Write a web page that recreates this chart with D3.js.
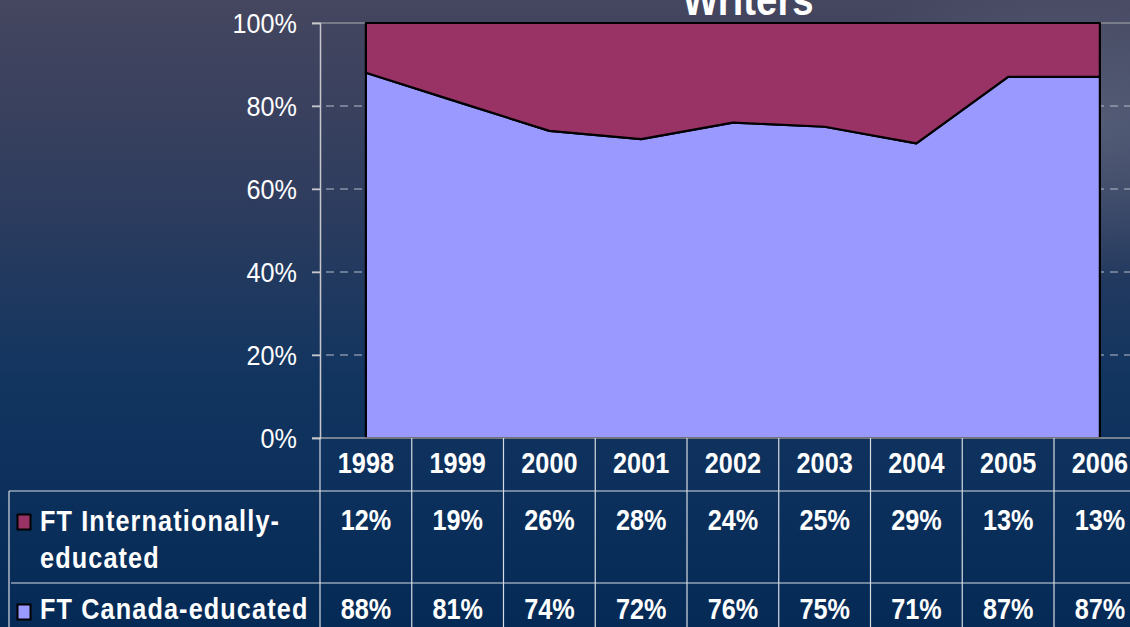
<!DOCTYPE html>
<html><head><meta charset="utf-8">
<script src="https://cdn.jsdelivr.net/npm/d3@7"></script>
<style>html,body{margin:0;padding:0;overflow:hidden;background:#0a2b55}</style>
</head><body>
<svg id="chart" width="1130" height="627"></svg>
<script>
const years = ["1998","1999","2000","2001","2002","2003","2004","2005","2006"];
const intlEducated = [12,19,26,28,24,25,29,13,13];
const canadaEducated = [88,81,74,72,76,75,71,87,87];
const seriesNames = ["FT Internationally-educated","FT Canada-educated"];
const yTicks = [0,20,40,60,80,100];
const title = "Writers";

const W = 1130, H = 627;
const SX = 0.87; // horizontal squash of text seen in the reference
const font = "'Liberation Sans', Arial, sans-serif";
const svg = d3.select("#chart");

// background
const defs = svg.append("defs");
const g1 = defs.append("linearGradient").attr("id","bg").attr("x1",0).attr("y1",0).attr("x2",0).attr("y2",1);
g1.append("stop").attr("offset","0%").attr("stop-color","#45465f");
g1.append("stop").attr("offset","30%").attr("stop-color","#303d5e");
g1.append("stop").attr("offset","60%").attr("stop-color","#123560");
g1.append("stop").attr("offset","100%").attr("stop-color","#052a56");
svg.append("rect").attr("width",W).attr("height",H).attr("fill","url(#bg)");
const g2 = defs.append("radialGradient").attr("id","glow").attr("cx","95%").attr("cy","20%").attr("r","25%");
g2.append("stop").attr("offset","0%").attr("stop-color","#7a8296").attr("stop-opacity",0.45);
g2.append("stop").attr("offset","100%").attr("stop-color","#7a8296").attr("stop-opacity",0);
svg.append("rect").attr("width",W).attr("height",H).attr("fill","url(#glow)");

// scales
const axisX = 320, colW = 91.75;
const x = d3.scaleBand().domain(years).range([axisX, axisX + colW*years.length]).padding(0);
const cx = d => x(d) + x.bandwidth()/2;
const y = d3.scaleLinear().domain([0,100]).range([438,23]);

// gridlines
svg.append("g").selectAll("line").data(yTicks.filter(t=>t>0 && t<100)).join("line")
  .attr("x1",312).attr("x2",W).attr("y1",d=>y(d)).attr("y2",d=>y(d))
  .attr("stroke","#b8bcc8").attr("stroke-width",1).attr("stroke-dasharray","8,6");
svg.append("line").attr("x1",312).attr("x2",W).attr("y1",y(100)).attr("y2",y(100))
  .attr("stroke","#8a8c96").attr("stroke-width",1.5);

// stacked areas
const rows = years.map((yr,i)=>({year:yr, canada:canadaEducated[i], intl:intlEducated[i]}));
const stack = d3.stack().keys(["canada","intl"]).offset(d3.stackOffsetExpand);
const stacked = stack(rows);
const colors = {canada:"#9999ff", intl:"#993366"};
const area = d3.area().x(d=>cx(d.data.year)).y0(d=>y(d[0]*100)).y1(d=>y(d[1]*100));
svg.append("g").selectAll("path").data(stacked).join("path")
  .attr("d",area).attr("fill",d=>colors[d.key]).attr("stroke","#000").attr("stroke-width",2.2)
  .attr("stroke-linejoin","round");

// category axis line
svg.append("line").attr("x1",312).attr("x2",W).attr("y1",y(0)).attr("y2",y(0))
  .attr("stroke","#9a9ca6").attr("stroke-width",1.5);

// y axis
const yAxis = svg.append("g").attr("transform",`translate(${axisX},0)`)
  .call(d3.axisLeft(y).tickValues(yTicks).tickSize(8).tickFormat(d=>d+"%"));
yAxis.select(".domain").attr("stroke","#c8c8cc").attr("stroke-width",1.5);
yAxis.selectAll(".tick line").attr("stroke","#c8c8cc").attr("stroke-width",1.5);
yAxis.selectAll(".tick text").attr("x",0).attr("dy",null).attr("y",0)
  .attr("transform","translate(-23,9) scale(0.9,1)")
  .attr("fill","#fff").attr("font-family",font).attr("font-size",28).attr("text-anchor","end");

// title
svg.append("text").attr("transform",`translate(748,15) scale(${SX},1)`)
  .attr("text-anchor","middle").attr("fill","#fff").attr("font-family",font)
  .attr("font-weight","bold").attr("font-size",44).text(title);

// data table grid
const gridColor = "#d8dbe2";
const tbl = svg.append("g");
tbl.selectAll("line.v").data(years.concat(["end"])).join("line")
  .attr("x1",(d,i)=>axisX + i*colW).attr("x2",(d,i)=>axisX + i*colW)
  .attr("y1",438).attr("y2",H).attr("stroke",gridColor).attr("stroke-width",1.2);
tbl.append("line").attr("x1",9).attr("x2",9).attr("y1",491).attr("y2",H).attr("stroke",gridColor).attr("stroke-width",1.2);
tbl.append("line").attr("x1",9).attr("x2",W).attr("y1",491).attr("y2",491).attr("stroke",gridColor).attr("stroke-width",1.2);
tbl.append("line").attr("x1",11).attr("x2",W).attr("y1",583).attr("y2",583).attr("stroke",gridColor).attr("stroke-width",1.2);

function btext(g, xx, yy, s, anchor, spacing){
  return g.append("text").attr("transform",`translate(${xx},${yy}) scale(${SX},1)`)
    .attr("text-anchor",anchor||"middle").attr("fill","#fff").attr("font-family",font)
    .attr("font-weight","bold").attr("font-size",29)
    .attr("letter-spacing", spacing||0).text(s);
}
years.forEach((yr,i)=>{
  btext(tbl, cx(yr), 473, yr);
  btext(tbl, cx(yr), 530, intlEducated[i]+"%");
  btext(tbl, cx(yr), 619, canadaEducated[i]+"%");
});
// legend keys and row labels
tbl.append("rect").attr("x",17.5).attr("y",514.5).attr("width",13).attr("height",15)
  .attr("fill",colors.intl).attr("stroke","#000").attr("stroke-width",2);
tbl.append("rect").attr("x",17.5).attr("y",604.5).attr("width",13).attr("height",15)
  .attr("fill",colors.canada).attr("stroke","#000").attr("stroke-width",2);
btext(tbl, 40, 531, "FT Internationally-", "start", 1.3);
btext(tbl, 40, 568, "educated", "start", 1.3);
btext(tbl, 40, 619, seriesNames[1], "start", 1.3);
</script>
</body></html>
